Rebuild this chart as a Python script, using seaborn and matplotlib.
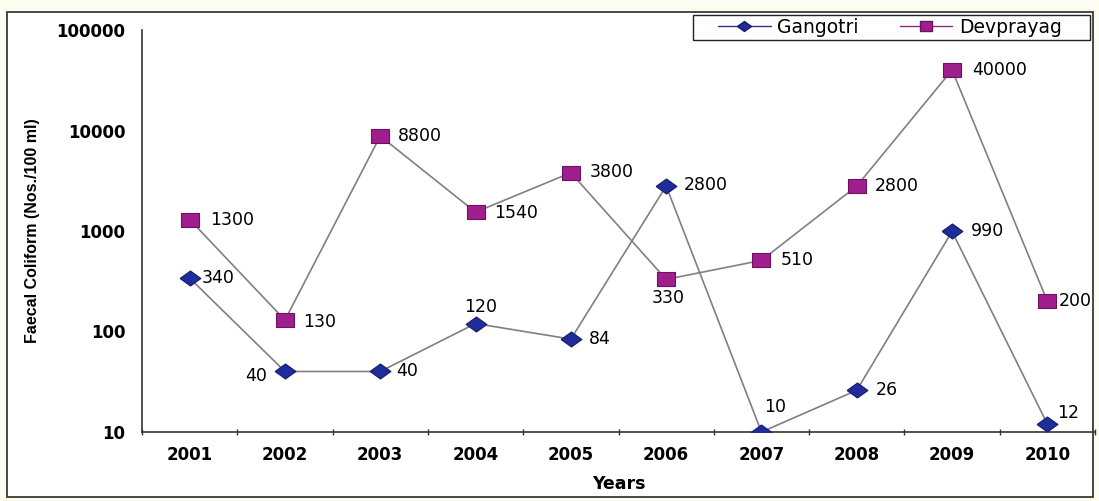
import matplotlib
matplotlib.use("Agg")
import numpy as np
import pandas as pd
import seaborn as sns
import matplotlib.pyplot as plt
from matplotlib.lines import Line2D
from matplotlib.patches import Rectangle

# Faecal coliform counts (Nos./100 ml) at two Ganga stations
years = ["2001", "2002", "2003", "2004", "2005", "2006", "2007", "2008", "2009", "2010"]
gangotri = [340, 40, 40, 120, 84, 2800, 10, 26, 990, 12]
devprayag = [1300, 130, 8800, 1540, 3800, 330, 510, 2800, 40000, 200]
y_ticks = [10, 100, 1000, 10000, 100000]

sns.set_theme(style="white")
plt.rcParams["font.family"] = ["DejaVu Sans"]
plt.rcParams["text.color"] = "black"
plt.rcParams["axes.labelcolor"] = "black"

W, H = 1099, 501
fig = plt.figure(figsize=(W / 100, H / 100), dpi=100, facecolor="#fcfcef")

# white chart panel with a thin border
fig.patches.append(Rectangle((7 / W, 1 - 497 / H), (1093 - 7) / W, (497 - 12) / H,
                             transform=fig.transFigure, facecolor="white",
                             edgecolor="#3a3a3a", lw=1.3, zorder=-5))

ax = fig.add_axes([142 / W, 1 - 432 / H, (1095 - 142) / W, (432 - 30) / H])
ax.set_facecolor("none")

df = pd.DataFrame({"pos": np.arange(len(years)),
                   "Gangotri": gangotri,
                   "Devprayag": devprayag})

diamond = np.array([(-1, 0), (0, 0.72), (1, 0), (0, -0.72), (-1, 0)])
box = np.array([(-1, -0.78), (1, -0.78), (1, 0.78), (-1, 0.78), (-1, -0.78)])

g_face, g_edge = "#1f2c9c", "#141d6c"
d_face, d_edge = "#a01e8e", "#6a1460"
line_col = "#808080"

sns.lineplot(data=df, x="pos", y="Gangotri", ax=ax, color=line_col, lw=1.2,
             marker=diamond, markersize=15, markerfacecolor=g_face,
             markeredgecolor=g_edge, markeredgewidth=0.8, zorder=3)
sns.lineplot(data=df, x="pos", y="Devprayag", ax=ax, color=line_col, lw=1.2,
             marker=box, markersize=13.5, markerfacecolor=d_face,
             markeredgecolor=d_edge, markeredgewidth=0.8, zorder=3)

ax.set_yscale("log")
ax.set_ylim(10, 100000)
ax.set_xlim(-0.5, len(years) - 0.5)

ax.set_yticks(y_ticks)
ax.set_yticklabels([str(v) for v in y_ticks])
ax.yaxis.set_minor_locator(matplotlib.ticker.NullLocator())
ax.set_xticks(np.arange(len(years)))
ax.set_xticklabels(years)
ax.set_xticks(np.arange(len(years) + 1) - 0.5, minor=True)

ax.tick_params(axis="y", which="major", direction="out", length=6, width=1,
               color="#333333", pad=6, labelsize=12, labelcolor="black")
ax.tick_params(axis="x", which="major", length=0, pad=10, labelsize=12,
               labelcolor="black")
ax.tick_params(axis="x", which="minor", direction="inout", length=5, width=1,
               color="#333333", bottom=True)
for lab in ax.get_yticklabels() + ax.get_xticklabels():
    lab.set_fontweight("bold")

for side in ("top", "right"):
    ax.spines[side].set_visible(False)
for side in ("left", "bottom"):
    ax.spines[side].set_color("#333333")
    ax.spines[side].set_linewidth(1.2)

ax.set_xlabel("Years", fontsize=12.5, fontweight="bold", labelpad=8)
ax.set_ylabel("Faecal Coliform (Nos./100 ml)", fontsize=11.5, fontweight="bold",
              family="Liberation Sans", labelpad=12)

# value labels: (dx, dy) in pixels, horizontal alignment
px = 0.72
g_off = [(12, 0, "left"), (-18, -5, "right"), (16, 0, "left"), (5, 17, "center"),
         (18, 0, "left"), (18, 1, "left"), (14, 25, "center"), (19, 0, "left"),
         (19, 0, "left"), (10, 11, "left")]
d_off = [(20, 0, "left"), (18, -2, "left"), (18, 0, "left"), (19, -1, "left"),
         (19, 1, "left"), (2, -19, "center"), (19, 0, "left"), (18, 0, "left"),
         (20, 0, "left"), (11, 0, "left")]
for series, offs in ((gangotri, g_off), (devprayag, d_off)):
    for i, (v, (dx, dy, ha)) in enumerate(zip(series, offs)):
        ax.annotate(str(v), (i, v), xytext=(dx * px, dy * px),
                    textcoords="offset points", ha=ha, va="center",
                    fontsize=12.5, color="black", zorder=4)

# legend: entries without frame, border drawn as its own box
fig.patches.append(Rectangle((693 / W, 1 - 40 / H), (1090 - 693) / W, 25 / H,
                             transform=fig.transFigure, facecolor="white",
                             edgecolor="#222222", lw=1.0, zorder=-4))
handles = [
    Line2D([], [], color="#2a3590", lw=1, marker=diamond, markersize=10,
           markerfacecolor=g_face, markeredgecolor=g_edge),
    Line2D([], [], color="#8a2a80", lw=1, marker=box, markersize=9,
           markerfacecolor=d_face, markeredgecolor=d_edge),
]
leg = fig.legend(handles, ["Gangotri", "Devprayag"], ncol=2,
                 loc="center left", bbox_to_anchor=(718 / W, 1 - 27.5 / H),
                 frameon=False, fontsize=13.5, handlelength=2.8,
                 handletextpad=0.35, columnspacing=2.2, borderpad=0,
                 borderaxespad=0)

fig.savefig("out.png", dpi=100, facecolor=fig.get_facecolor())
